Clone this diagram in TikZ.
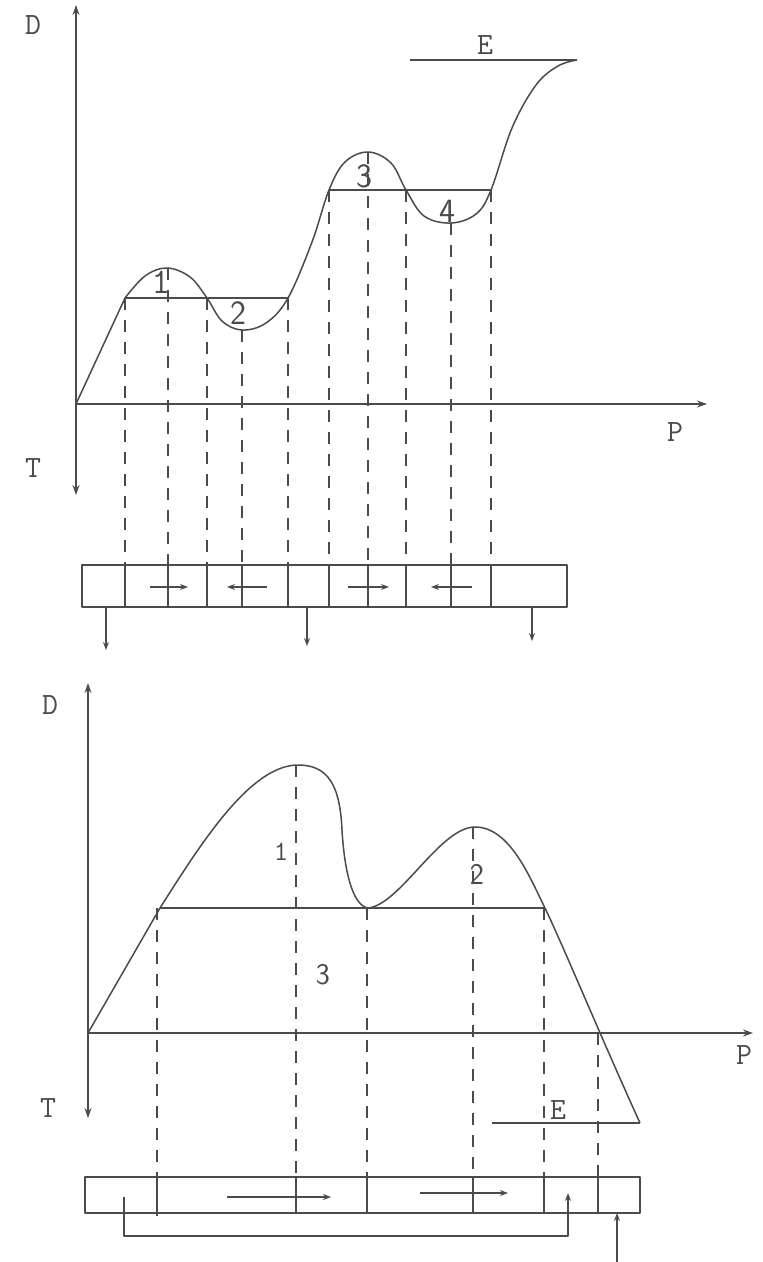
\documentclass[tikz,border=0pt]{standalone}
\usepackage{fontspec}
\usetikzlibrary{arrows.meta}
\definecolor{ink}{RGB}{75,75,75}
\begin{document}
\begin{tikzpicture}[x=1pt,y=-1pt, line join=round,
  ln/.style={draw=ink, line width=1.5pt},
  dsh/.style={draw=ink, line width=1.5pt, dash pattern=on 12pt off 10pt},
  ax/.style={ln, -{Stealth[length=10pt,width=7pt]}},
  sarr/.style={ln, line width=1.2pt, -{Stealth[length=8pt,width=6pt]}},
  lbl/.style={text=ink, font=\fontsize{31}{31}\selectfont\ttfamily, inner sep=0pt},
  numt/.style={text=ink, font=\fontsize{34}{34}\selectfont\sffamily, inner sep=0pt},
  numb/.style={text=ink, font=\fontsize{30}{30}\selectfont\sffamily, inner sep=0pt},
  onet/.style={text=ink, font=\fontsize{36}{36}\selectfont\ttfamily, inner sep=0pt},
  oneb/.style={text=ink, font=\fontsize{28}{28}\selectfont\ttfamily, inner sep=0pt}]
\useasboundingbox (0,0) rectangle (763,1262);

% ================= TOP DIAGRAM =================
\coordinate (O1) at (76,404);
\coordinate (D1t) at (76,5);
\coordinate (T1t) at (76,495);
\coordinate (P1t) at (707,404);
\draw[ax] (O1) -- (D1t);
\draw[ax] (O1) -- (T1t);
\draw[ax] (O1) -- (P1t);
\node[lbl] (D1) at (33,25) {D};
\node[lbl] (T1) at (33,468) {T};
\node[lbl] (P1) at (675,432) {P};

% curve
\draw[ln] (O1) -- (125,298) plot[smooth, tension=0.6] coordinates {(125,298) (145,276) (167,268) (190,277) (207,298) (222,321) (242,330) (266,323) (288,298) (312,242) (329,190) (345,162) (368,152) (391,163) (406,190) (424,216) (451,223) (476,214) (491,190) (512,128) (536,85) (558,66) (577,60)};
\draw[ln] (125,298) -- (288,298);
\draw[ln] (329,190) -- (491,190);
\draw[ln] (410,60) -- (577,60);
\node[lbl] (E1) at (485,45) {E};
\node[onet] (n1t) at (161,282) {1};
\node[numt] (n2t) at (238,313) {2};
\node[numt] (n3t) at (364,176) {3};
\node[numt] (n4t) at (447,211) {4};

% dashed verticals
\foreach \x/\y in {125/298, 168/268, 207/298, 242/330, 288/298, 329/190, 368/152, 406/190, 451/223, 491/190}
  \draw[dsh] (\x,\y) -- (\x,565);

% box
\draw[ln] (82,565) rectangle (567,607);
\foreach \x in {125,168,207,242,288,329,368,406,451,491}
  \draw[ln] (\x,565) -- (\x,607);
\draw[sarr] (150,587) -- (188,587);
\draw[sarr] (267,587) -- (227,587);
\draw[sarr] (348,587) -- (389,587);
\draw[sarr] (472,587) -- (431,587);
\draw[sarr] (106,607) -- (106,650);
\draw[sarr] (307,607) -- (307,646);
\draw[sarr] (532,607) -- (532,641);

% ================= BOTTOM DIAGRAM =================
\coordinate (O2) at (88,1033);
\coordinate (D2t) at (88,683);
\coordinate (T2t) at (88,1118);
\coordinate (P2t) at (753,1033);
\draw[ax] (O2) -- (D2t);
\draw[ax] (O2) -- (T2t);
\draw[ax] (O2) -- (P2t);
\node[lbl] (D2) at (50,705) {D};
\node[lbl] (T2) at (48,1108) {T};
\node[lbl] (P2) at (744,1055) {P};

\draw[ln] (O2) -- (160,908)
  .. controls (200,845) and (250,765) .. (298,765)
  .. controls (328,765) and (340,785) .. (342,830)
  .. controls (345,880) and (355,906) .. (368,908)
  .. controls (400,905) and (440,827) .. (475,827)
  .. controls (510,827) and (530,878) .. (545,908)
  .. controls (565,950) and (600,1035) .. (640,1123);
\draw[ln] (160,908) -- (545,908);
\draw[ln] (492,1123) -- (640,1123);
\node[lbl] (E2) at (558,1110) {E};
\node[oneb] (n1b) at (281,852) {1};
\node[numb] (n3b) at (323,975) {3};
\node[numb] (n2b) at (477,874) {2};

\foreach \x/\y in {157/908, 296/765, 367/908, 473/827, 544/908, 598/1033}
  \draw[dsh] (\x,\y) -- (\x,1177);

\draw[ln] (85,1177) rectangle (640,1213);
\draw[ln] (157,1177) -- (157,1216);
\foreach \x in {296,367,473,544,598}
  \draw[ln] (\x,1177) -- (\x,1213);
\draw[sarr] (227,1197) -- (331,1197);
\draw[sarr] (420,1193) -- (508,1193);
\coordinate (bk1) at (124,1197);
\coordinate (bk2) at (568,1193);
\draw[sarr] (bk1) -- (124,1236) -- (568,1236) -- (bk2);
\coordinate (inb) at (617,1262);
\draw[sarr] (inb) -- (617,1213);
\end{tikzpicture}
\end{document}
